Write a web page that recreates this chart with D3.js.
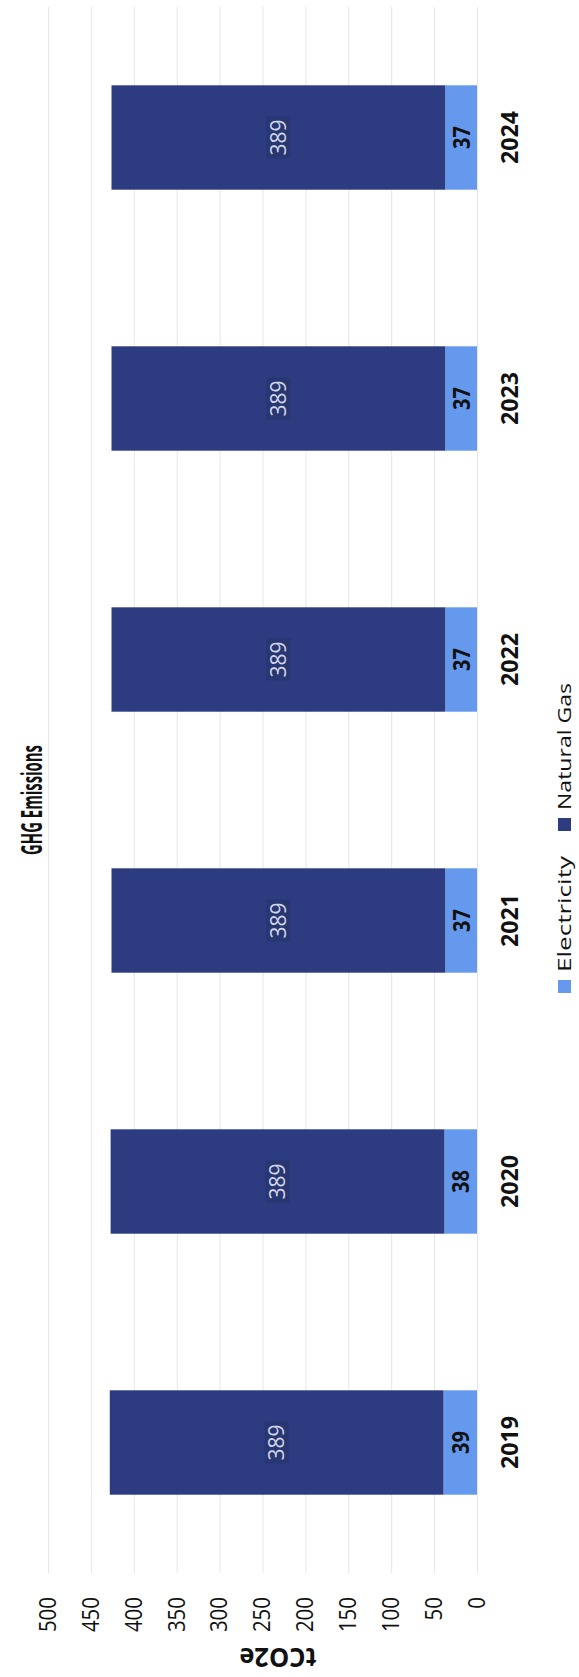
<!DOCTYPE html>
<html>
<head>
<meta charset="utf-8">
<script src="https://cdn.jsdelivr.net/npm/d3@7"></script>
<style>
  body { margin: 0; background: #fff; }
  text { font-family: "Open Sans", "Noto Sans", sans-serif; }
</style>
</head>
<body>
<svg id="chart" width="579" height="1677"></svg>
<script>
// chart data
var years = ['2019', '2020', '2021', '2022', '2023', '2024'];
var electricity = [39, 38, 37, 37, 37, 37];
var naturalGas = [389, 389, 389, 389, 389, 389];
var yTicks = [0, 50, 100, 150, 200, 250, 300, 350, 400, 450, 500];
var seriesNames = ['Electricity', 'Natural Gas'];
var seriesColors = ['#6599ee', '#2d3b80'];

var W = 1677, H = 579; // chart is drawn upright then turned on its side

var svg = d3.select('#chart');
var g = svg.append('g')
  .attr('transform', 'translate(0,' + W + ') rotate(-90)');

var x = d3.scaleBand().domain(years).range([104, 1670])
  .paddingInner(0.6).paddingOuter(0.3);
var y = d3.scaleLinear().domain([0, 500]).range([477, 48]);

// value axis + gridlines
var yAxis = d3.axisLeft(y).tickValues(yTicks)
  .tickSize(-(1670 - 104)).tickPadding(24);

var yG = g.append('g')
  .attr('transform', 'translate(104,0)')
  .call(yAxis);
yG.select('.domain').remove();
yG.selectAll('.tick line').attr('stroke', '#e6e6e6').attr('stroke-width', 1);
yG.selectAll('.tick text')
  .attr('fill', '#111')
  .style('font-size', '23px')
  .attr('textLength', function(d) { return String(d).length * 11.7; })
  .attr('lengthAdjust', 'spacingAndGlyphs');

// stacked bars
var stacked = years.map(function(yr, i) {
  return { year: yr, e: electricity[i], n: naturalGas[i] };
});

g.selectAll('.bar-e').data(stacked).enter().append('rect')
  .attr('class', 'bar-e')
  .attr('x', function(d) { return x(d.year); })
  .attr('width', x.bandwidth())
  .attr('y', function(d) { return y(d.e); })
  .attr('height', function(d) { return y(0) - y(d.e); })
  .attr('fill', seriesColors[0]);

g.selectAll('.bar-n').data(stacked).enter().append('rect')
  .attr('class', 'bar-n')
  .attr('x', function(d) { return x(d.year); })
  .attr('width', x.bandwidth())
  .attr('y', function(d) { return y(d.e + d.n); })
  .attr('height', function(d) { return y(d.e) - y(d.e + d.n); })
  .attr('fill', seriesColors[1]);

// labels on the bars
g.selectAll('.lab-e').data(stacked).enter().append('text')
  .attr('class', 'lab-e')
  .attr('x', function(d) { return x(d.year) + x.bandwidth() / 2; })
  .attr('y', function(d) { return (y(0) + y(d.e)) / 2; })
  .attr('dy', '0.36em')
  .attr('text-anchor', 'middle')
  .attr('font-weight', 'bold')
  .style('font-size', '24px')
  .attr('fill', '#111')
  .attr('textLength', 23)
  .attr('lengthAdjust', 'spacingAndGlyphs')
  .text(function(d) { return d.e; });

g.selectAll('.box-n').data(stacked).enter().append('rect')
  .attr('class', 'box-n')
  .attr('x', function(d) { return x(d.year) + x.bandwidth() / 2 - 21; })
  .attr('y', function(d) { return (y(d.e) + y(d.e + d.n)) / 2 - 12; })
  .attr('width', 42)
  .attr('height', 24)
  .attr('fill', '#283672');

g.selectAll('.lab-n').data(stacked).enter().append('text')
  .attr('class', 'lab-n')
  .attr('x', function(d) { return x(d.year) + x.bandwidth() / 2; })
  .attr('y', function(d) { return (y(d.e) + y(d.e + d.n)) / 2; })
  .attr('dy', '0.36em')
  .attr('text-anchor', 'middle')
  .style('font-size', '21px')
  .attr('fill', '#d3d7ea')
  .attr('textLength', 36)
  .attr('lengthAdjust', 'spacingAndGlyphs')
  .text(function(d) { return d.n; });

// category axis
var xAxis = d3.axisBottom(x).tickSize(0);
var xG = g.append('g')
  .attr('transform', 'translate(0,' + y(0) + ')')
  .call(xAxis);
xG.select('.domain').remove();
xG.selectAll('.tick text')
  .attr('y', 41).attr('dy', 0)
  .attr('fill', '#111')
  .attr('font-weight', 'bold')
  .style('font-size', '24px')
  .attr('textLength', 53)
  .attr('lengthAdjust', 'spacingAndGlyphs');

// title
g.append('text')
  .attr('x', 877).attr('y', 42)
  .attr('text-anchor', 'middle')
  .attr('font-weight', 'bold')
  .style('font-size', '28px')
  .attr('fill', '#111')
  .attr('textLength', 110)
  .attr('lengthAdjust', 'spacingAndGlyphs')
  .text('GHG Emissions');

// value axis title
g.append('text')
  .attr('transform', 'translate(29,278) rotate(-90)')
  .attr('text-anchor', 'middle')
  .attr('font-weight', 'bold')
  .style('font-size', '26px')
  .attr('fill', '#111')
  .attr('textLength', 77)
  .attr('lengthAdjust', 'spacingAndGlyphs')
  .text('tCO2e');

// legend
var legendX = [684, 846];
var legendLen = [116, 127];
var legend = g.selectAll('.legend').data(seriesNames).enter().append('g')
  .attr('class', 'legend')
  .attr('transform', function(d, i) { return 'translate(' + legendX[i] + ',558)'; });

legend.append('rect')
  .attr('width', 13).attr('height', 13)
  .attr('fill', function(d, i) { return seriesColors[i]; });

legend.append('text')
  .attr('x', 21).attr('y', 13)
  .style('font-size', '19px')
  .attr('fill', '#111')
  .attr('textLength', function(d, i) { return legendLen[i]; })
  .attr('lengthAdjust', 'spacingAndGlyphs')
  .text(function(d) { return d; });
</script>
</body>
</html>
